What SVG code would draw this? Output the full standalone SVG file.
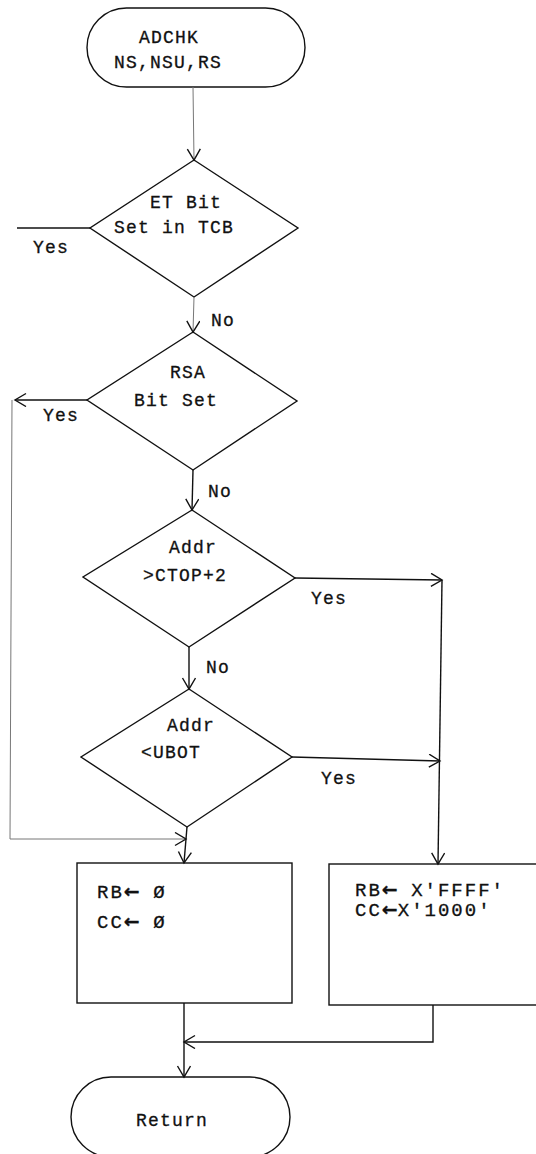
<svg xmlns="http://www.w3.org/2000/svg" width="536" height="1154" viewBox="0 0 536 1154">
<style>
.shape{fill:none;stroke:#111;stroke-width:1.4}
.t{font-family:"Liberation Mono","DejaVu Sans Mono",monospace;font-size:18px;letter-spacing:1.2px;fill:#111;stroke:#111;stroke-width:0.3}
.c{text-anchor:middle}
.b{font-size:19px;letter-spacing:2px}
.ar{font-family:"DejaVu Sans",sans-serif;font-weight:bold;letter-spacing:0}
.con{fill:none;stroke:#111;stroke-width:1.4}
.faint{stroke:#777;stroke-width:1}
</style>
<defs>
<marker id="ah" markerUnits="userSpaceOnUse" markerWidth="14" markerHeight="16" refX="12" refY="7" orient="auto">
<path d="M1,0.5 L12,7 L1,13.5" fill="none" stroke="#111" stroke-width="1.4"/>
</marker>
</defs>
<rect width="536" height="1154" fill="#fff"/>
<g id="start">
<rect class="shape" x="87" y="8" width="218" height="79" rx="39.5"/>
<text class="t c" x="169" y="43">ADCHK</text>
<text class="t c" x="168" y="68">NS,NSU,RS</text>
</g>
<g id="d1">
<polygon class="shape" points="194,160 298,228 194,297 90,228"/>
<text class="t c" x="186" y="208">ET Bit</text>
<text class="t c" x="174" y="233">Set in TCB</text>
</g>
<g id="d2">
<polygon class="shape" points="193,332 297,401 193,470 87,400"/>
<text class="t c" x="188" y="378">RSA</text>
<text class="t c" x="176" y="406">Bit Set</text>
</g>
<g id="d3">
<polygon class="shape" points="192,510 295,578 189,647 83,577"/>
<text class="t c" x="193" y="553">Addr</text>
<text class="t c" x="185" y="581">&gt;CTOP+2</text>
</g>
<g id="d4">
<polygon class="shape" points="189,689 292,757 187,827 81,757"/>
<text class="t c" x="191" y="731">Addr</text>
<text class="t c" x="171" y="758">&lt;UBOT</text>
</g>
<g id="box1">
<rect class="shape" x="77" y="863" width="215" height="140"/>
<text class="t b" x="97" y="898">RB<tspan class="ar">←</tspan> Ø</text>
<text class="t b" x="97" y="928">CC<tspan class="ar">←</tspan> Ø</text>
</g>
<g id="box2">
<rect class="shape" x="329" y="864" width="215" height="141"/>
<text class="t b" x="355" y="896">RB<tspan class="ar">←</tspan> X'FFFF'</text>
<text class="t b" x="355" y="916">CC<tspan class="ar">←</tspan>X'1000'</text>
</g>
<g id="return">
<rect class="shape" x="71" y="1077" width="219" height="80" rx="40"/>
<text class="t c" x="172" y="1126">Return</text>
</g>
<g id="connectors">
<path class="con faint" d="M193,87 L194,160" marker-end="url(#ah)"/>
<path class="con faint" d="M194,297 L193,332" marker-end="url(#ah)"/>
<path class="con" d="M90,228 L17,228"/>
<path class="con" d="M87,400 L15,400" marker-end="url(#ah)"/>
<path class="con faint" d="M12,400 L10,839 L186,839" marker-end="url(#ah)"/>
<path class="con" d="M193,470 L192,510" marker-end="url(#ah)"/>
<path class="con" d="M189,647 L189,689" marker-end="url(#ah)"/>
<path class="con" d="M295,578 L442,580" marker-end="url(#ah)"/>
<path class="con" d="M442,580 L438,864" marker-end="url(#ah)"/>
<path class="con" d="M292,757 L440,761" marker-end="url(#ah)"/>
<path class="con" d="M187,827 L184,863" marker-end="url(#ah)"/>
<path class="con" d="M184,1003 L184,1077" marker-end="url(#ah)"/>
<path class="con" d="M433,1005 L433,1042 L184,1042" marker-end="url(#ah)"/>
</g>
<g id="labels">
<text class="t c" x="51" y="253">Yes</text>
<text class="t c" x="223" y="326">No</text>
<text class="t c" x="61" y="421">Yes</text>
<text class="t c" x="220" y="497">No</text>
<text class="t c" x="329" y="604">Yes</text>
<text class="t c" x="218" y="673">No</text>
<text class="t c" x="339" y="784">Yes</text>
</g>
</svg>
